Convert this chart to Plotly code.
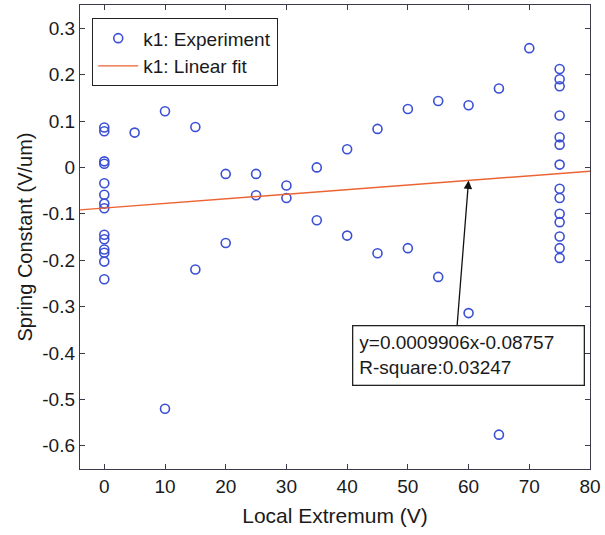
import plotly.graph_objects as go

# Measured spring constant k1 versus local extremum voltage
x_exp = [0] * 14 + [5, 10, 10, 15, 15, 20, 20, 25, 25, 30, 30, 35, 35, 40, 40,
                    45, 45, 50, 50, 55, 55, 60, 60, 65, 65, 70] + [75] * 14
y_exp = [
    # 0 V
    0.086, 0.078, 0.013, 0.008, -0.034, -0.059, -0.078, -0.088,
    -0.145, -0.155, -0.177, -0.184, -0.203, -0.241,
    # 5 .. 70 V
    0.075, 0.121, -0.520, 0.087, -0.220, -0.014, -0.163, -0.014, -0.060,
    -0.039, -0.066, 0.000, -0.114, 0.039, -0.147, 0.083, -0.185,
    0.126, -0.174, 0.143, -0.236, 0.134, -0.314, 0.170, -0.576, 0.257,
    # 75 V
    0.212, 0.190, 0.175, 0.112, 0.065, 0.049, 0.006, -0.046, -0.066,
    -0.100, -0.118, -0.149, -0.174, -0.195,
]

# Linear fit coefficients
slope = 0.0009906
intercept = -0.08757
r_square = 0.03247

x_range = [-4, 80]
y_range = [-0.65, 0.35]
x_ticks = [0, 10, 20, 30, 40, 50, 60, 70, 80]
y_ticks = [0.3, 0.2, 0.1, 0, -0.1, -0.2, -0.3, -0.4, -0.5, -0.6]

x_fit = [x_range[0], x_range[1]]
y_fit = [slope * v + intercept for v in x_fit]

FONT = "Liberation Sans, Arial, sans-serif"
AXIS_COLOR = "#3a3a48"
TEXT_COLOR = "#1a1a1a"

fig = go.Figure()
fig.add_trace(go.Scatter(
    x=x_exp, y=y_exp, mode="markers", name="k1: Experiment",
    marker=dict(symbol="circle-open", size=9, color="#3b4fd4",
                line=dict(width=1.6, color="#3b4fd4")),
))
fig.add_trace(go.Scatter(
    x=x_fit, y=y_fit, mode="lines", name="k1: Linear fit",
    line=dict(color="#ec6433", width=1.4),
))

# Arrow pointing at the fit line at x = 60
x_point = 60
fig.add_annotation(
    x=x_point, y=slope * x_point + intercept, xref="x", yref="y",
    ax=58.1, ay=-0.343, axref="x", ayref="y",
    text="", showarrow=True, arrowhead=2, arrowsize=1.3, arrowwidth=1.3,
    arrowcolor="#111111", standoff=0,
)

# Fit equation text box
fig.add_annotation(
    x=60, y=-0.405, xref="x", yref="y", xanchor="center", yanchor="middle",
    text=f"y={slope}x{intercept}<br>R-square:{r_square}",
    showarrow=False, align="left", width=218, height=46, borderpad=6,
    bordercolor="#222222", borderwidth=1.3, bgcolor="white",
    font=dict(family=FONT, size=19, color=TEXT_COLOR),
)

axis_common = dict(
    showgrid=False, zeroline=False, showline=True, linecolor=AXIS_COLOR,
    linewidth=1.3, mirror="ticks", ticks="inside", ticklen=5,
    tickcolor=AXIS_COLOR, tickwidth=1.2,
    tickfont=dict(family=FONT, size=19, color=TEXT_COLOR),
)

fig.update_layout(
    width=605, height=535,
    margin=dict(l=80, r=12, t=4, b=66),
    paper_bgcolor="white", plot_bgcolor="white",
    font=dict(family=FONT, color=TEXT_COLOR),
    xaxis=dict(range=x_range, tickvals=x_ticks,
               title=dict(text="Local Extremum (V)", standoff=12,
                          font=dict(family=FONT, size=21, color=TEXT_COLOR)),
               **axis_common),
    yaxis=dict(range=y_range, tickvals=y_ticks,
               ticktext=[f"{v:g}" for v in y_ticks],
               title=dict(text="Spring Constant (V/um)", standoff=4,
                          font=dict(family=FONT, size=20, color=TEXT_COLOR)),
               **axis_common),
    legend=dict(x=0.0234, y=0.972, xanchor="left", yanchor="top",
                bgcolor="white", bordercolor="#222222", borderwidth=1.3,
                font=dict(family=FONT, size=19, color=TEXT_COLOR),
                itemwidth=40, tracegroupgap=0),
    showlegend=True,
)

fig.write_html("out.html")
